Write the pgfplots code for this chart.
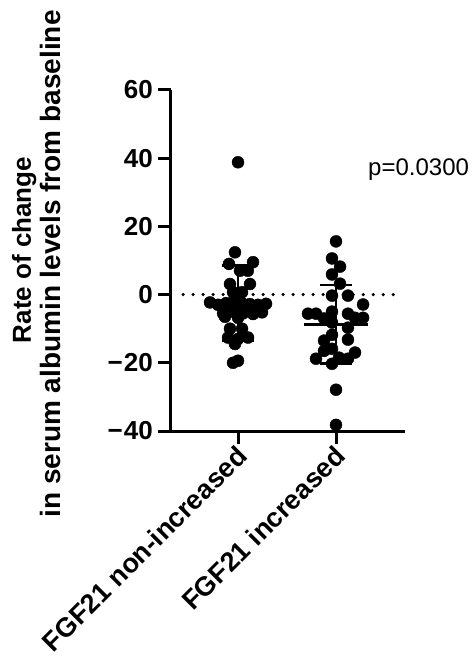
\documentclass[border=0pt]{standalone}
\usepackage{fontspec}
\setmainfont{Liberation Sans}
\usepackage{pgfplots}
\usepackage{pgfplotstable}
\pgfplotsset{compat=1.18}

\pgfplotstableread{
x y
0 38.8
-0.031 12.4
-0.092 9.0
0.153 9.5
0.02 7.0
0.10 7.0
-0.082 3.1
0.122 3.1
-0.051 0.7
0.041 0.7
-0.286 -2.3
-0.204 -3.0
-0.122 -2.5
-0.041 -2.0
0.041 -2.5
0.122 -2.8
0.204 -3.0
0.286 -2.7
-0.153 -5.5
-0.051 -5.0
0.051 -5.5
0.153 -5.7
0.245 -5.2
-0.133 -6.5
0 -6.8
-0.082 -10
0.041 -10
-0.102 -12.6
0.102 -12.6
0 -13
-0.031 -14.5
0 -19.4
-0.051 -20
}\groupA

\pgfplotstableread{
x y
1.000 15.6
0.959 10.6
1.041 8.2
0.959 5.9
1.041 3.2
0.959 -0.3
1.122 -0.3
1.276 -2.9
0.714 -5.6
0.796 -5.6
0.959 -5.0
1.122 -5.6
0.878 -7.0
1.194 -6.8
1.276 -6.8
0.959 -8.2
1.122 -9.7
0.959 -11.8
0.878 -13.5
1.122 -13.2
0.878 -16.5
0.959 -15.9
0.796 -18.8
0.959 -20.3
1.031 -18.5
1.122 -18.8
1.194 -17.0
1.000 -27.9
1.000 -38.2
}\groupB

\begin{document}
\begin{tikzpicture}
\useasboundingbox (-171bp,-233bp) rectangle (303bp,431bp);
\begin{axis}[
  at={(0,0)}, anchor=south west,
  scale only axis, width=234bp, height=341bp,
  xmin=-0.684, xmax=1.704, ymin=-40, ymax=60,
  axis lines=left,
  axis line style={-, line width=3bp, black},
  tick align=outside,
  major tick length=13bp,
  tick style={line width=3bp, black},
  xtick={0,1},
  xticklabels={FGF21 non-increased, FGF21 increased},
  ytick={-40,-20,0,20,40,60},
  yticklabels={−\kern1bp40,−\kern1bp20,0,20,40,60},
  yticklabel style={font=\fontsize{26bp}{30bp}\selectfont\bfseries, inner sep=5bp},
  xticklabel style={font=\fontsize{27bp}{31bp}\selectfont\bfseries, rotate=45, anchor=east, inner sep=2bp, yshift=-8bp},
  clip=false,
]
\addplot[black, line width=3.5bp, line cap=round, dash pattern=on 0bp off 10bp] coordinates {(-0.56,0) (1.66,0)};
\addplot[only marks, mark=*, mark size=6bp, black] table {\groupA};
\addplot[only marks, mark=*, mark size=6bp, black] table {\groupB};
% group 1 mean and SD
\addplot[black, line width=2.5bp] coordinates {(-0.33,-2.3) (0.33,-2.3)};
\addplot[black, line width=2bp] coordinates {(0,-13.5) (0,8.5)};
\addplot[black, line width=2.5bp] coordinates {(-0.165,8.5) (0.165,8.5)};
\addplot[black, line width=2.5bp] coordinates {(-0.165,-13.5) (0.165,-13.5)};
% group 2 mean and SD
\addplot[black, line width=2.5bp] coordinates {(0.67,-8.7) (1.33,-8.7)};
\addplot[black, line width=2bp] coordinates {(1,-20.2) (1,2.8)};
\addplot[black, line width=2.5bp] coordinates {(0.835,2.8) (1.165,2.8)};
\addplot[black, line width=2.5bp] coordinates {(0.835,-20.2) (1.165,-20.2)};
\end{axis}
\node[rotate=90, anchor=base, inner sep=0pt, font=\fontsize{26bp}{30bp}\selectfont\bfseries] at (-140bp,181bp) {Rate of change};
\node[rotate=90, anchor=base, inner sep=0pt, font=\fontsize{28bp}{32bp}\selectfont\bfseries] at (-110bp,167bp) {in serum albumin levels from baseline};
\node[anchor=west, inner sep=0pt, font=\fontsize{24bp}{28bp}\selectfont] at (197bp,261bp) {p=0.0300};
\end{tikzpicture}
\end{document}
